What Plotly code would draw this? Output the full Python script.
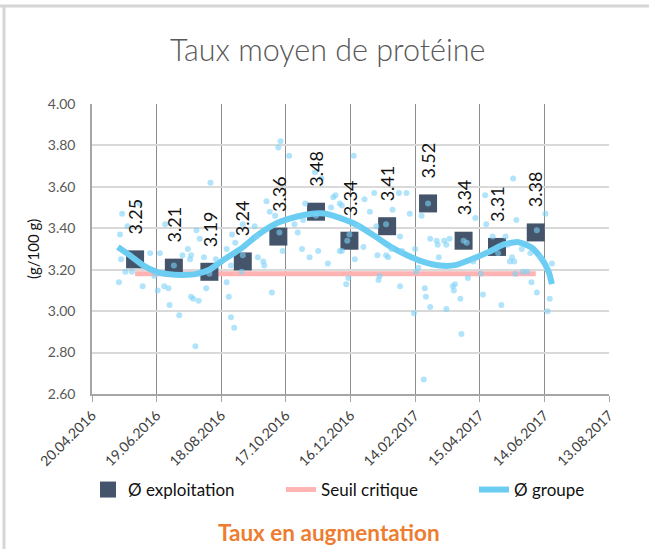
import plotly.graph_objects as go
import pandas as pd

FONT = "Lato, 'Open Sans', sans-serif"
BASE_DATE = pd.Timestamp("2016-04-20")

# ---- data ----
exp_dates = ["2016-05-30", "2016-07-05", "2016-08-07", "2016-09-07", "2016-10-10", "2016-11-14",
             "2016-12-15", "2017-01-19", "2017-02-26", "2017-03-31", "2017-05-01", "2017-06-06"]
exp_values = [3.25, 3.21, 3.19, 3.24, 3.36, 3.48, 3.34, 3.41, 3.52, 3.34, 3.31, 3.38]

seuil_dates = ["2016-05-30", "2017-06-06"]
seuil_values = [3.18, 3.18]

# Ø groupe trend curve (days after 20.04.2016)
curve_days = [24, 35, 47, 60, 72, 84, 97, 109, 122, 139, 154, 170, 185, 201, 216, 230, 246, 261,
              277, 292, 307, 323, 337, 355, 368, 383, 396, 408, 417, 424, 427]
curve_values = [3.31, 3.27, 3.223, 3.19, 3.178, 3.175, 3.18, 3.20, 3.247, 3.304, 3.368, 3.421,
                3.449, 3.468, 3.471, 3.45, 3.416, 3.368, 3.312, 3.271, 3.239, 3.22, 3.222, 3.256,
                3.285, 3.323, 3.333, 3.307, 3.256, 3.19, 3.13]

# Ø groupe individual values (days after 20.04.2016)
dot_days = [28, 44, 33, 26, 27, 31, 37, 25, 47, 54, 58, 63, 68, 61, 67, 71, 72, 81, 76, 84, 89, 91,
            92, 97, 100, 92, 94, 99, 96, 106, 104, 110, 115, 109,
            175, 173, 183, 162, 165, 170, 130, 133, 125, 140, 151, 153, 154, 159, 160, 129, 139, 125,
            127, 129, 132, 167, 177, 174, 188, 191, 195, 198, 202, 210, 207, 213, 219, 222, 224, 226,
            230, 230, 196, 140, 208,
            243, 232, 253, 262, 258, 247, 237, 239, 232, 244, 252, 264, 265, 273, 275, 278, 279, 273,
            286, 288, 285, 292, 295, 300, 303, 301, 306, 267, 266, 238, 236, 286, 299, 309, 310, 314,
            308, 314, 320, 321, 327, 329, 332, 322, 335, 336, 329, 312,
            391, 365, 356, 366, 372, 384, 394, 386, 377, 399, 388, 392, 390, 407, 416, 427, 421, 393,
            400, 404, 408, 413, 425, 423, 380, 363, 361, 349, 354, 342, 343, 337, 345, 348, 413]
dot_values = [3.47, 3.52, 3.41, 3.37, 3.25, 3.19, 3.19, 3.14, 3.12, 3.28, 3.17, 3.28, 3.42, 3.10,
              3.12, 3.11, 3.03, 2.98, 3.22, 3.27, 3.30, 3.25, 3.27, 3.39, 3.35, 3.07, 3.06, 3.05,
              2.83, 3.11, 3.26, 3.62, 3.25, 3.18,
              3.82, 3.79, 3.75, 3.53, 3.48, 3.46, 3.37, 3.33, 3.30, 3.42, 3.41, 3.36, 3.26, 3.24,
              3.22, 3.22, 3.19, 3.14, 3.07, 2.97, 2.92, 3.09, 3.29, 3.38, 3.42, 3.38, 3.30, 3.52,
              3.26, 3.29, 3.67, 3.64, 3.23, 3.50, 3.55, 3.56, 3.52, 3.29, 3.44, 3.27, 3.46,
              3.75, 3.51, 3.54, 3.57, 3.48, 3.41, 3.34, 3.37, 3.29, 3.25, 3.31, 3.41, 3.27, 3.27,
              3.26, 3.30, 3.49, 3.42, 3.36, 3.29, 3.57, 3.57, 3.47, 3.30, 3.21, 3.19, 3.46, 3.17,
              3.15, 3.16, 3.13, 3.12, 2.99, 3.11, 3.07, 3.02, 2.67, 3.35, 3.34, 3.32, 3.34, 3.32,
              3.35, 3.26, 3.12, 3.10, 3.01, 3.52,
              3.64, 3.56, 3.45, 3.42, 3.36, 3.36, 3.44, 3.32, 3.28, 3.30, 3.24, 3.24, 3.26, 3.28,
              3.26, 3.23, 3.47, 3.18, 3.19, 3.19, 3.14, 3.09, 3.06, 3.00, 3.03, 3.08, 3.18, 3.16,
              3.24, 3.06, 2.89, 3.13, 3.34, 3.33, 3.39]

x_tick_dates = ["2016-04-20", "2016-06-19", "2016-08-18", "2016-10-17", "2016-12-16",
                "2017-02-14", "2017-04-15", "2017-06-14", "2017-08-13"]
y_ticks = [2.60, 2.80, 3.00, 3.20, 3.40, 3.60, 3.80, 4.00]

# ---- figure ----
curve_dates = BASE_DATE + pd.to_timedelta(curve_days, unit="D")
dot_dates = BASE_DATE + pd.to_timedelta(dot_days, unit="D")

fig = go.Figure()
fig.add_trace(go.Scatter(
    x=seuil_dates, y=seuil_values, mode="lines", name="Seuil critique",
    line=dict(color="#FFB3B3", width=5), legendrank=2))
fig.add_trace(go.Scatter(
    x=exp_dates, y=exp_values, mode="markers", name="Ø exploitation",
    marker=dict(symbol="square", size=18, color="#44546A", line=dict(width=0)), legendrank=1))
fig.add_trace(go.Scatter(
    x=curve_dates, y=curve_values, mode="lines", name="Ø groupe",
    line=dict(color="#6CCDF3", width=6, shape="spline", smoothing=0.6), legendrank=3,
    legendwidth=80))
fig.add_trace(go.Scatter(
    x=dot_dates, y=dot_values, mode="markers", showlegend=False,
    marker=dict(size=6, color="rgba(125,210,247,0.6)", line=dict(width=0))))

for d, v in zip(exp_dates, exp_values):
    fig.add_annotation(x=d, y=v, text=f"{v:.2f}", showarrow=False, textangle=-90,
                       yanchor="bottom", yshift=23, font=dict(family=FONT, size=18, color="#111111"))

x0_px, x1_px, y0_px, y1_px = 92, 609, 104, 394
pw, ph = x1_px - x0_px, y1_px - y0_px

def px_x(p):
    return (p - x0_px) / pw

def px_y(p):
    return (y1_px - p) / ph

frame = "#D6D6D6"
fig.add_shape(type="line", xref="paper", yref="paper", x0=px_x(0), x1=px_x(649),
              y0=px_y(6), y1=px_y(6), line=dict(color=frame, width=3))
fig.add_shape(type="line", xref="paper", yref="paper", x0=px_x(4), x1=px_x(4),
              y0=px_y(6), y1=px_y(549), line=dict(color=frame, width=3))

fig.add_annotation(xref="paper", yref="paper", x=px_x(329), y=px_y(532),
                   text="<b>Taux en augmentation</b>",
                   showarrow=False, xanchor="center", yanchor="middle",
                   font=dict(family=FONT, size=22.5, color="#ED7D31"))
fig.add_annotation(xref="paper", yref="paper", x=px_x(33), y=0.5, text="(g/100 g)",
                   showarrow=False, textangle=-90, xanchor="center", yanchor="middle",
                   font=dict(family=FONT, size=15, color="#111111"))

fig.update_layout(
    width=649, height=549,
    margin=dict(l=x0_px, r=649 - x1_px, t=y0_px, b=549 - y1_px, autoexpand=False),
    paper_bgcolor="white", plot_bgcolor="white",
    font=dict(family=FONT, color="#595959"),
    title=dict(text="Taux moyen de protéine", x=0.505, xref="container", xanchor="center",
               y=1 - 50 / 549, yref="container", yanchor="middle",
               font=dict(family=FONT, size=30.5, color="#595959", weight=300)),
    showlegend=True,
    legend=dict(orientation="h", xref="container", yref="container",
                x=88 / 649, xanchor="left", y=1 - 490 / 549, yanchor="middle",
                entrywidth=148, font=dict(family=FONT, size=17, color="#111111"),
                bgcolor="rgba(0,0,0,0)"),
    xaxis=dict(type="date", range=[x_tick_dates[0], x_tick_dates[-1]],
               tickvals=x_tick_dates,
               ticktext=[pd.Timestamp(t).strftime("%d.%m.%Y") for t in x_tick_dates],
               tickangle=-45, tickfont=dict(family=FONT, size=14, color="#404040"),
               showgrid=True, gridcolor="#8C8C8C", gridwidth=1,
               showline=True, linecolor="#A6A6A6", linewidth=1.5,
               ticks="outside", ticklen=6, tickcolor="#A6A6A6", zeroline=False,
               automargin=False),
    yaxis=dict(range=[2.6, 4.0], tickvals=y_ticks, ticktext=[f"{t:.2f}" for t in y_ticks],
               tickfont=dict(family=FONT, size=14, color="#595959"),
               showgrid=True, gridcolor="#D9D9D9", gridwidth=2,
               showline=True, linecolor="#A6A6A6", linewidth=1.5,
               ticks="outside", ticklen=12, tickcolor="rgba(0,0,0,0)",
               zeroline=False, automargin=False),
)

fig.write_html("out.html", config={"displayModeBar": False},
               post_script="document.body.style.margin='0px';")
